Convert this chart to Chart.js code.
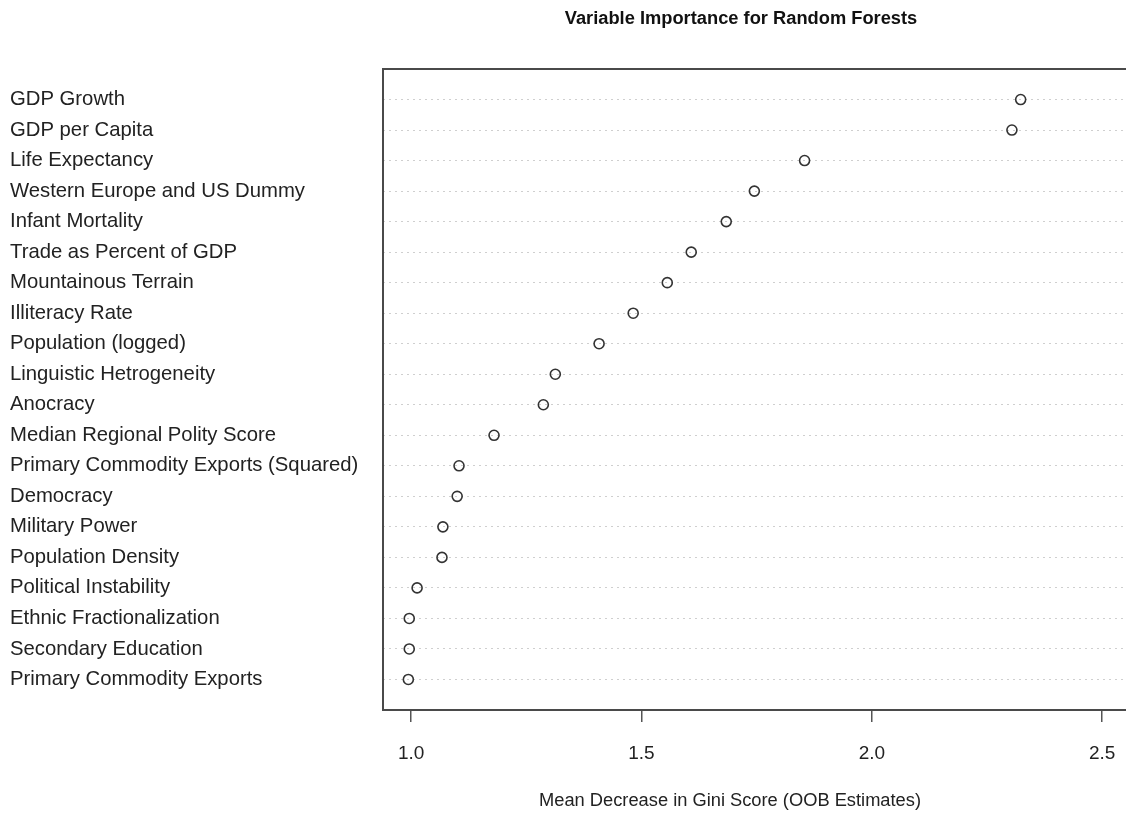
<!DOCTYPE html>
<html>
<head>
<meta charset="utf-8">
<script src="https://cdn.jsdelivr.net/npm/chart.js@4/dist/chart.umd.min.js"></script>
<style>
  html, body { margin: 0; padding: 0; background: #fff; overflow: hidden; }
  #wrap { width: 1126px; height: 813px; overflow: hidden; }
</style>
</head>
<body>
<div id="wrap"><canvas id="c" width="1160" height="813"></canvas></div>
<script>
// variables, top to bottom as in the dot chart
const variables = [
  'GDP Growth',
  'GDP per Capita',
  'Life Expectancy',
  'Western Europe and US Dummy',
  'Infant Mortality',
  'Trade as Percent of GDP',
  'Mountainous Terrain',
  'Illiteracy Rate',
  'Population (logged)',
  'Linguistic Hetrogeneity',
  'Anocracy',
  'Median Regional Polity Score',
  'Primary Commodity Exports (Squared)',
  'Democracy',
  'Military Power',
  'Population Density',
  'Political Instability',
  'Ethnic Fractionalization',
  'Secondary Education',
  'Primary Commodity Exports',
];

// mean decrease in Gini
const giniScores = [
  2.323, 2.304, 1.854, 1.745, 1.684, 1.608, 1.556, 1.482, 1.408, 1.313,
  1.287, 1.180, 1.104, 1.100, 1.069, 1.067, 1.013, 0.996, 0.996, 0.994,
];

const xTicks = [1.0, 1.5, 2.0, 2.5];

const TITLE = 'Variable Importance for Random Forests';
const X_TITLE = 'Mean Decrease in Gini Score (OOB Estimates)';

const n = variables.length;
const points = giniScores.map((v, i) => ({ x: v, y: n - i }));

const FONT = 'Liberation Sans, Arial, sans-serif';
const INK = '#222';

// ── plot box + titles ─────────────────────────────────
const boxPlugin = {
  id: 'box',
  beforeDatasetsDraw(chart) {
    const { ctx, chartArea: a } = chart;
    ctx.save();
    ctx.strokeStyle = '#4a4a4a';
    ctx.lineWidth = 2;
    ctx.strokeRect(a.left, a.top, a.right - a.left, a.bottom - a.top);
    ctx.restore();
  },
  afterDraw(chart) {
    const { ctx } = chart;
    ctx.save();
    ctx.textAlign = 'center';
    ctx.textBaseline = 'middle';
    ctx.fillStyle = '#111';
    ctx.font = 'bold 18.3px ' + FONT;
    ctx.fillText(TITLE, 741, 19);
    ctx.fillStyle = INK;
    ctx.font = '18.3px ' + FONT;
    ctx.fillText(X_TITLE, 730, 801);
    ctx.restore();
  }
};

new Chart(document.getElementById('c'), {
  type: 'scatter',
  data: {
    datasets: [{
      data: points,
      pointRadius: 5,
      pointBorderWidth: 1.6,
      pointBorderColor: '#333',
      pointBackgroundColor: 'rgba(255,255,255,0)',
      pointHoverRadius: 5,
      clip: false,
    }]
  },
  options: {
    responsive: false,
    animation: false,
    devicePixelRatio: 1,
    layout: { padding: { left: 10, top: 69, right: 20, bottom: 0 } },
    plugins: { legend: { display: false }, tooltip: { enabled: false } },
    scales: {
      x: {
        type: 'linear',
        min: 0.939,
        max: 2.582,
        afterBuildTicks: (s) => { s.ticks = xTicks.map(v => ({ value: v })); },
        afterFit: (s) => { s.height = 103; },
        border: { display: false },
        grid: {
          drawOnChartArea: false,
          drawTicks: true,
          tickLength: 12,
          tickColor: '#555',
          lineWidth: 1.5,
        },
        ticks: {
          color: INK,
          font: { family: FONT, size: 19 },
          padding: 20,
          maxRotation: 0,
          callback: (v) => Number(v).toFixed(1),
        },
      },
      y: {
        type: 'linear',
        min: 0,
        max: n + 1,
        afterBuildTicks: (s) => { s.ticks = variables.map((_, i) => ({ value: n - i })); },
        afterFit: (s) => { s.width = 373; },
        border: { display: false, dash: [2, 4] },
        grid: {
          drawTicks: false,
          color: '#cfcfcf',
          lineWidth: 1,
        },
        ticks: {
          color: INK,
          font: { family: FONT, size: 20.3 },
          crossAlign: 'far',
          padding: 0,
          autoSkip: false,
          callback: (v) => variables[n - v],
        },
      }
    }
  },
  plugins: [boxPlugin]
});
</script>
</body>
</html>
